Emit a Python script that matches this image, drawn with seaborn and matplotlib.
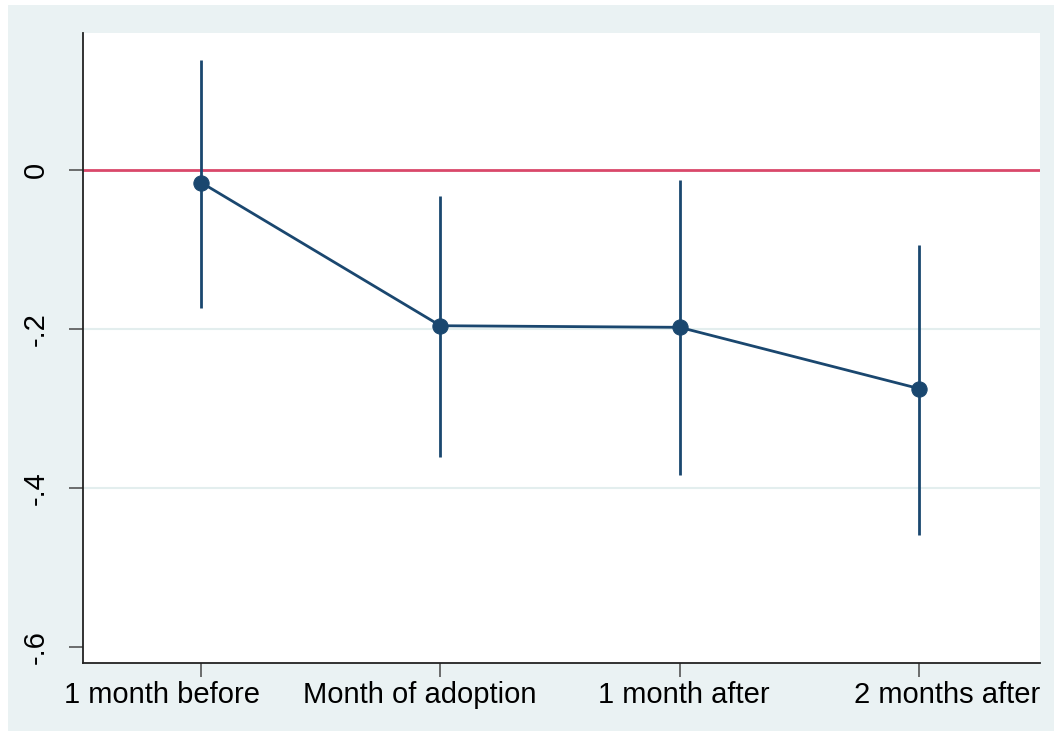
import pandas as pd
import numpy as np
import matplotlib
matplotlib.use("Agg")
import matplotlib.pyplot as plt
import matplotlib.transforms as mtransforms
import seaborn as sns
from matplotlib.patches import Rectangle

periods = ['1 month before', 'Month of adoption', '1 month after', '2 months after']
coef = [-0.016, -0.196, -0.198, -0.275]
ci_low = [-0.174, -0.361, -0.384, -0.459]
ci_high = [0.138, -0.033, -0.013, -0.094]
yticks = [0, -0.2, -0.4, -0.6]
ytick_labels = ['0', '-.2', '-.4', '-.6']

navy = '#1a476f'
bg = '#eaf2f3'

df = pd.DataFrame({'period': periods, 'pos': range(len(periods)),
                   'coef': coef, 'lo': ci_low, 'hi': ci_high})

sns.set_style("white")
plt.rcParams['font.family'] = ['Liberation Sans', 'DejaVu Sans']

fig = plt.figure(figsize=(10.54, 7.31), dpi=100, facecolor='white')
fig.patches.append(Rectangle((8 / 1054, 0), 1, 1 - 5 / 731, transform=fig.transFigure,
                             facecolor=bg, edgecolor='none', zorder=-10))
ax = fig.add_axes([83 / 1054, 1 - 663 / 731, (1040 - 83) / 1054, (663 - 33) / 731])
ax.set_facecolor('white')

for v in [-0.2, -0.4]:
    ax.axhline(v, color='#e3eeee', lw=1.5, zorder=0)
ax.axhline(0, color='#d9486a', lw=2, zorder=1)

ax.vlines(df['pos'], df['lo'], df['hi'], color=navy, lw=2, zorder=2)
sns.lineplot(data=df, x='pos', y='coef', ax=ax, color=navy, lw=2, marker='o',
             markersize=11, markeredgecolor=navy, zorder=3)

ax.set_xlim(-0.494, 3.506)
ax.set_ylim(-0.62, 0.172)
ax.set_xticks(df['pos'])
ax.set_xticklabels(periods)
ax.set_yticks(yticks)
ax.set_yticklabels(ytick_labels, rotation=90, va='center')
ax.set_xlabel('')
ax.set_ylabel('')
ax.tick_params(axis='both', labelsize=21, length=10, width=1.2, color='#555555',
               labelcolor='black', direction='out', bottom=True, left=True)
ax.tick_params(axis='x', pad=3)
ax.tick_params(axis='y', pad=14)

# labels in the original sit a little off their ticks
shifts = [-39, -21, 4, 28]
for lab, dx in zip(ax.get_xticklabels(), shifts):
    lab.set_transform(lab.get_transform() +
                      mtransforms.ScaledTranslation(dx / 100, 0, fig.dpi_scale_trans))

for s in ['top', 'right']:
    ax.spines[s].set_visible(False)
for s in ['left', 'bottom']:
    ax.spines[s].set_color('#222222')
    ax.spines[s].set_linewidth(1.3)

fig.savefig('out.png', dpi=100, facecolor='white')
plt.close(fig)
